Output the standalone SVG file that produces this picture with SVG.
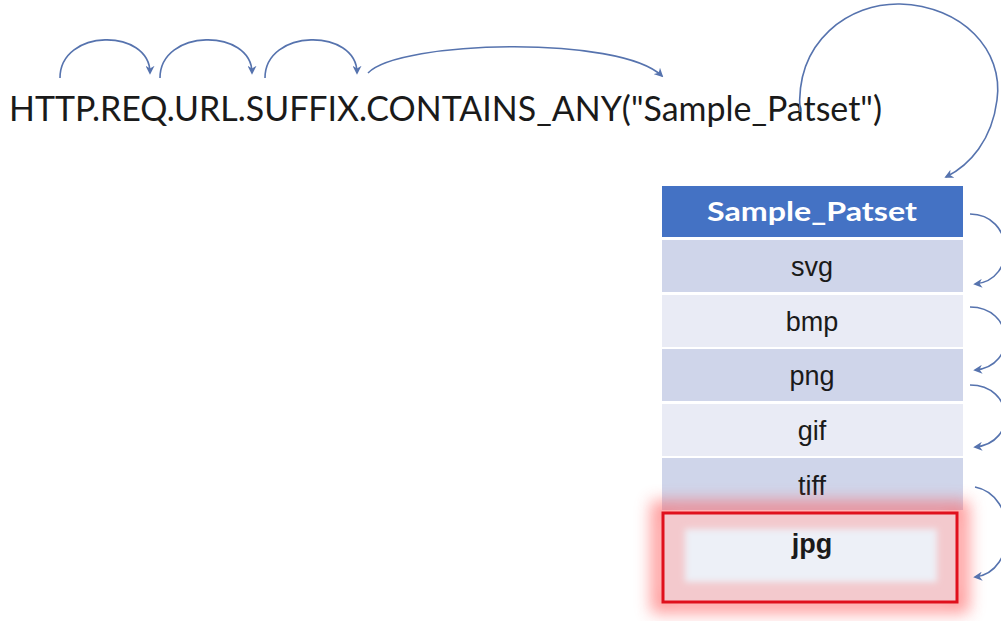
<svg xmlns="http://www.w3.org/2000/svg" width="1001" height="621" viewBox="0 0 1001 621">
<defs>
<style>
.arc{fill:none;stroke:#5673AE;stroke-width:1.6}
.cell{font-family:"Liberation Sans",Arial,sans-serif;font-size:27px;fill:#1a1a1a;text-anchor:middle}
.dark{fill:#CFD5EA}
.light{fill:#E9EBF5}
</style>
<marker id="ah" viewBox="0 0 10 10" refX="8" refY="5" markerWidth="9" markerHeight="9" markerUnits="userSpaceOnUse" orient="auto">
<path d="M0,0 L10,5 L0,10 L3,5 z" fill="#5673AE"/>
</marker>
<filter id="glow" x="-20%" y="-40%" width="140%" height="180%">
<feGaussianBlur stdDeviation="8"/>
</filter>
<filter id="soft" x="-10%" y="-30%" width="120%" height="160%">
<feGaussianBlur stdDeviation="3"/>
</filter>
</defs>
<rect width="1001" height="621" fill="#ffffff"/>

<g id="expression">
<text x="9" y="121" font-family="Lato,'Open Sans',sans-serif" font-size="35" fill="#1a1a1a" textLength="873" lengthAdjust="spacingAndGlyphs">HTTP.REQ.URL.SUFFIX.CONTAINS_ANY("Sample_Patset")</text>
</g>

<g id="table">
<g id="header">
<rect x="662" y="186" width="301" height="51" fill="#4472C4"/>
<text x="812" y="221" font-family="Lato,'Open Sans',sans-serif" font-weight="bold" font-size="26" fill="#ffffff" text-anchor="middle" textLength="210" lengthAdjust="spacingAndGlyphs">Sample_Patset</text>
</g>
<g id="row-svg">
<rect class="dark" x="662" y="240" width="301" height="52"/>
<text class="cell" x="812" y="276">svg</text>
</g>
<g id="row-bmp">
<rect class="light" x="662" y="295" width="301" height="52"/>
<text class="cell" x="812" y="331">bmp</text>
</g>
<g id="row-png">
<rect class="dark" x="662" y="349" width="301" height="52"/>
<text class="cell" x="812" y="385">png</text>
</g>
<g id="row-gif">
<rect class="light" x="662" y="404" width="301" height="52"/>
<text class="cell" x="812" y="440">gif</text>
</g>
<g id="row-tiff">
<rect class="dark" x="662" y="458" width="301" height="52"/>
<text class="cell" x="812" y="495">tiff</text>
</g>
<g id="row-jpg">
<rect x="660" y="510" width="300" height="94" fill="none" stroke="#FF5A5A" stroke-width="18" opacity="0.6" filter="url(#glow)"/>
<rect x="663" y="513" width="294" height="88" fill="#F3C9CD"/>
<rect x="685" y="529" width="252" height="53" fill="#EDF0F7" filter="url(#soft)"/>
<rect x="663" y="513" width="294" height="89" fill="none" stroke="#E0101C" stroke-width="3"/>
<text class="cell" x="812" y="553" font-weight="bold">jpg</text>
</g>
</g>

<g id="connectors">
<path class="arc" marker-end="url(#ah)" d="M60,78 C60,28 150,28 150,73"/>
<path class="arc" marker-end="url(#ah)" d="M160,78 C160,28 252,28 252,73"/>
<path class="arc" marker-end="url(#ah)" d="M265,78 C265,28 357,28 357,73"/>
<path class="arc" marker-end="url(#ah)" d="M368,73 C400,40 620,35 662,76"/>
<path class="arc" marker-end="url(#ah)" d="M800,112 C795,40 850,3 900,4 C962,6 1004,50 997,100 C992,140 970,165 946,177"/>
<path class="arc" marker-end="url(#ah)" d="M970,214 C1014,214 1018,280 975,284"/>
<path class="arc" marker-end="url(#ah)" d="M970,307 C1014,307 1018,366 975,370"/>
<path class="arc" marker-end="url(#ah)" d="M970,385 C1014,385 1018,443 975,447"/>
<path class="arc" marker-end="url(#ah)" d="M975,487 C1018,495 1018,572 975,577"/>
</g>
</svg>
